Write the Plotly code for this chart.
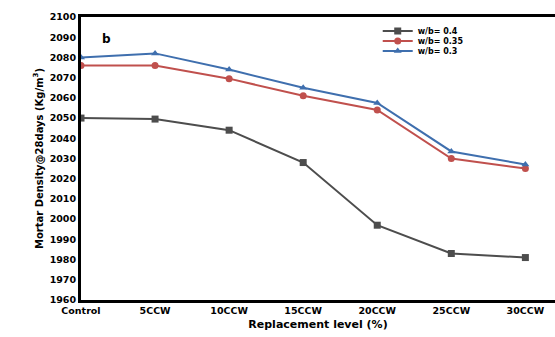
import plotly.graph_objects as go

categories = ["Control", "5CCW", "10CCW", "15CCW", "20CCW", "25CCW", "30CCW"]
wb_04 = [2050, 2049.5, 2044, 2028, 1997, 1983, 1981]
wb_035 = [2076, 2076, 2069.5, 2061, 2054, 2030, 2025]
wb_03 = [2080, 2082, 2074, 2065, 2057.5, 2033.5, 2027]
series_names = ["w/b= 0.4", "w/b= 0.35", "w/b= 0.3"]
y_ticks = list(range(1960, 2101, 10))

FONT = "DejaVu Sans"

fig = go.Figure()
styles = [
    (wb_04, "#4d4d4d", "square", "legend"),
    (wb_035, "#c0504d", "circle", "legend2"),
    (wb_03, "#3f6fae", "triangle-up", "legend3"),
]
for name, (vals, col, sym, lg) in zip(series_names, styles):
    fig.add_trace(go.Scatter(
        x=list(range(len(categories))), y=vals, name=name, mode="lines+markers",
        line=dict(color=col, width=2),
        marker=dict(symbol=sym, size=7, color=col),
        legend=lg,
    ))

def leg(ypx):
    return dict(x=0.626, y=(300 - ypx) / 283, xanchor="left", yanchor="middle",
                bgcolor="rgba(0,0,0,0)", font=dict(family=FONT, size=8, weight="bold"),
                itemwidth=30, borderwidth=0)

fig.update_layout(
    width=555, height=337,
    margin=dict(l=81, r=0, t=17, b=37),
    plot_bgcolor="white", paper_bgcolor="white",
    font=dict(family=FONT, color="black", size=9, weight="bold"),
    showlegend=True,
    legend=leg(31), legend2=leg(41), legend3=leg(51),
    xaxis=dict(
        tickmode="array", tickvals=list(range(len(categories))), ticktext=categories,
        range=[0, 6.4], showgrid=False, zeroline=False,
        showline=True, linecolor="black", linewidth=3, mirror=True,
        ticks="", tickfont=dict(size=9.5, weight="bold"),
        title=dict(text="Replacement level (%)", font=dict(size=11, weight="bold"), standoff=5),
    ),
    yaxis=dict(
        range=[1960, 2100], tickvals=y_ticks, showgrid=False, zeroline=False,
        showline=True, linecolor="black", linewidth=3,
        ticks="", tickfont=dict(size=9.5, weight="bold"),
        title=dict(text="Mortar Density@28days (Kg/m<sup>3</sup>)", font=dict(size=10, weight="bold"), standoff=5),
    ),
    annotations=[dict(text="b", x=0.04, y=0.955, xref="paper", yref="paper",
                      showarrow=False, font=dict(size=12, weight="bold"))],
)

fig.write_html("out.html")
